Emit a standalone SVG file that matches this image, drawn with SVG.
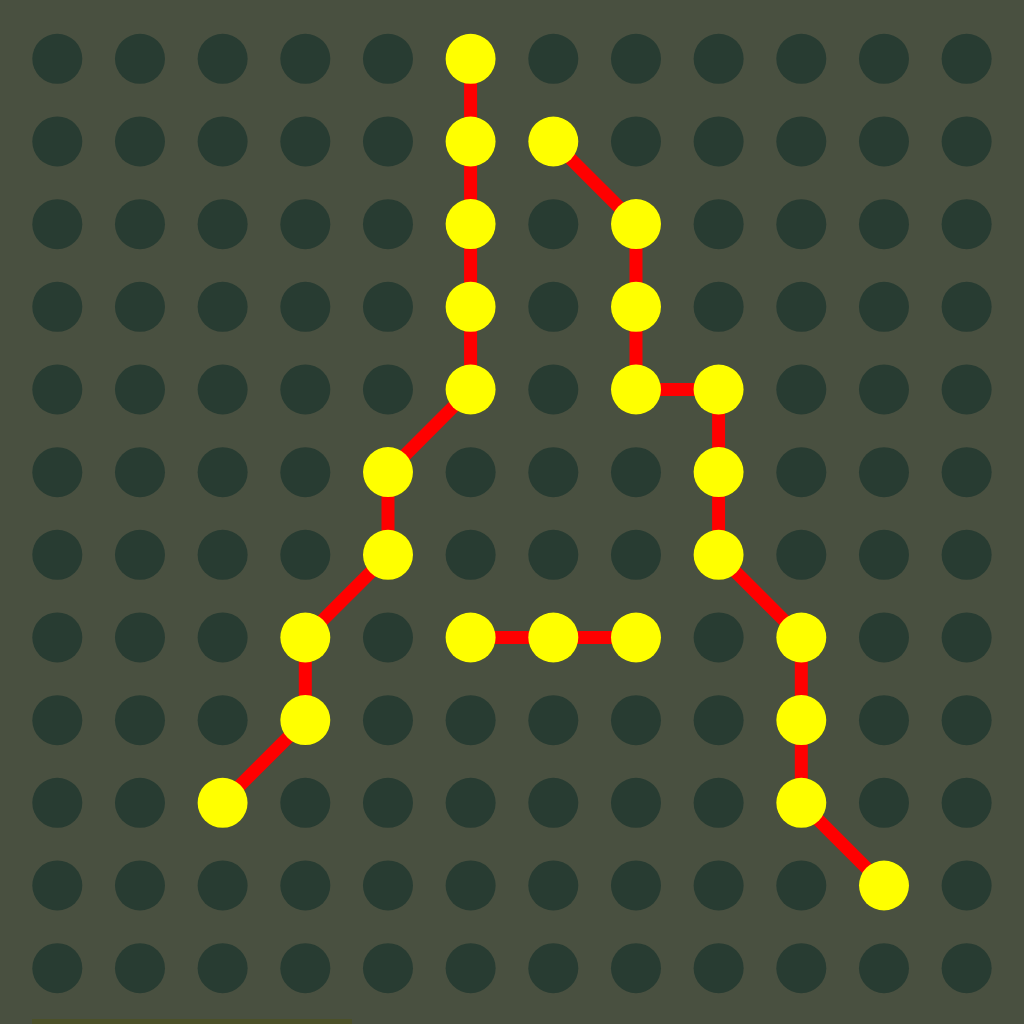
<svg xmlns="http://www.w3.org/2000/svg" width="1024" height="1024" viewBox="0 0 1024 1024">
<style>
.bg{fill:#495040}
.d{fill:#283c32}
.n{fill:#ffff00}
.e{stroke:#ff0000;stroke-width:13;fill:none;stroke-linecap:butt;stroke-linejoin:round}
</style>
<defs><circle id="dot" r="25"/></defs>
<rect class="bg" x="0" y="0" width="1024" height="1024"/>
<rect x="32" y="1019" width="320" height="5" fill="#4b5028"/>
<g id="grid" class="d">
<g transform="translate(57.3,58.8)">
<use href="#dot" x="0" y="0"/><use href="#dot" x="82.67" y="0"/><use href="#dot" x="165.33" y="0"/><use href="#dot" x="248" y="0"/><use href="#dot" x="330.67" y="0"/><use href="#dot" x="413.33" y="0"/><use href="#dot" x="496" y="0"/><use href="#dot" x="578.67" y="0"/><use href="#dot" x="661.33" y="0"/><use href="#dot" x="744" y="0"/><use href="#dot" x="826.67" y="0"/><use href="#dot" x="909.33" y="0"/>
</g>
<g transform="translate(57.3,141.47)">
<use href="#dot" x="0" y="0"/><use href="#dot" x="82.67" y="0"/><use href="#dot" x="165.33" y="0"/><use href="#dot" x="248" y="0"/><use href="#dot" x="330.67" y="0"/><use href="#dot" x="413.33" y="0"/><use href="#dot" x="496" y="0"/><use href="#dot" x="578.67" y="0"/><use href="#dot" x="661.33" y="0"/><use href="#dot" x="744" y="0"/><use href="#dot" x="826.67" y="0"/><use href="#dot" x="909.33" y="0"/>
</g>
<g transform="translate(57.3,224.13)">
<use href="#dot" x="0" y="0"/><use href="#dot" x="82.67" y="0"/><use href="#dot" x="165.33" y="0"/><use href="#dot" x="248" y="0"/><use href="#dot" x="330.67" y="0"/><use href="#dot" x="413.33" y="0"/><use href="#dot" x="496" y="0"/><use href="#dot" x="578.67" y="0"/><use href="#dot" x="661.33" y="0"/><use href="#dot" x="744" y="0"/><use href="#dot" x="826.67" y="0"/><use href="#dot" x="909.33" y="0"/>
</g>
<g transform="translate(57.3,306.8)">
<use href="#dot" x="0" y="0"/><use href="#dot" x="82.67" y="0"/><use href="#dot" x="165.33" y="0"/><use href="#dot" x="248" y="0"/><use href="#dot" x="330.67" y="0"/><use href="#dot" x="413.33" y="0"/><use href="#dot" x="496" y="0"/><use href="#dot" x="578.67" y="0"/><use href="#dot" x="661.33" y="0"/><use href="#dot" x="744" y="0"/><use href="#dot" x="826.67" y="0"/><use href="#dot" x="909.33" y="0"/>
</g>
<g transform="translate(57.3,389.47)">
<use href="#dot" x="0" y="0"/><use href="#dot" x="82.67" y="0"/><use href="#dot" x="165.33" y="0"/><use href="#dot" x="248" y="0"/><use href="#dot" x="330.67" y="0"/><use href="#dot" x="413.33" y="0"/><use href="#dot" x="496" y="0"/><use href="#dot" x="578.67" y="0"/><use href="#dot" x="661.33" y="0"/><use href="#dot" x="744" y="0"/><use href="#dot" x="826.67" y="0"/><use href="#dot" x="909.33" y="0"/>
</g>
<g transform="translate(57.3,472.13)">
<use href="#dot" x="0" y="0"/><use href="#dot" x="82.67" y="0"/><use href="#dot" x="165.33" y="0"/><use href="#dot" x="248" y="0"/><use href="#dot" x="330.67" y="0"/><use href="#dot" x="413.33" y="0"/><use href="#dot" x="496" y="0"/><use href="#dot" x="578.67" y="0"/><use href="#dot" x="661.33" y="0"/><use href="#dot" x="744" y="0"/><use href="#dot" x="826.67" y="0"/><use href="#dot" x="909.33" y="0"/>
</g>
<g transform="translate(57.3,554.8)">
<use href="#dot" x="0" y="0"/><use href="#dot" x="82.67" y="0"/><use href="#dot" x="165.33" y="0"/><use href="#dot" x="248" y="0"/><use href="#dot" x="330.67" y="0"/><use href="#dot" x="413.33" y="0"/><use href="#dot" x="496" y="0"/><use href="#dot" x="578.67" y="0"/><use href="#dot" x="661.33" y="0"/><use href="#dot" x="744" y="0"/><use href="#dot" x="826.67" y="0"/><use href="#dot" x="909.33" y="0"/>
</g>
<g transform="translate(57.3,637.47)">
<use href="#dot" x="0" y="0"/><use href="#dot" x="82.67" y="0"/><use href="#dot" x="165.33" y="0"/><use href="#dot" x="248" y="0"/><use href="#dot" x="330.67" y="0"/><use href="#dot" x="413.33" y="0"/><use href="#dot" x="496" y="0"/><use href="#dot" x="578.67" y="0"/><use href="#dot" x="661.33" y="0"/><use href="#dot" x="744" y="0"/><use href="#dot" x="826.67" y="0"/><use href="#dot" x="909.33" y="0"/>
</g>
<g transform="translate(57.3,720.13)">
<use href="#dot" x="0" y="0"/><use href="#dot" x="82.67" y="0"/><use href="#dot" x="165.33" y="0"/><use href="#dot" x="248" y="0"/><use href="#dot" x="330.67" y="0"/><use href="#dot" x="413.33" y="0"/><use href="#dot" x="496" y="0"/><use href="#dot" x="578.67" y="0"/><use href="#dot" x="661.33" y="0"/><use href="#dot" x="744" y="0"/><use href="#dot" x="826.67" y="0"/><use href="#dot" x="909.33" y="0"/>
</g>
<g transform="translate(57.3,802.8)">
<use href="#dot" x="0" y="0"/><use href="#dot" x="82.67" y="0"/><use href="#dot" x="165.33" y="0"/><use href="#dot" x="248" y="0"/><use href="#dot" x="330.67" y="0"/><use href="#dot" x="413.33" y="0"/><use href="#dot" x="496" y="0"/><use href="#dot" x="578.67" y="0"/><use href="#dot" x="661.33" y="0"/><use href="#dot" x="744" y="0"/><use href="#dot" x="826.67" y="0"/><use href="#dot" x="909.33" y="0"/>
</g>
<g transform="translate(57.3,885.47)">
<use href="#dot" x="0" y="0"/><use href="#dot" x="82.67" y="0"/><use href="#dot" x="165.33" y="0"/><use href="#dot" x="248" y="0"/><use href="#dot" x="330.67" y="0"/><use href="#dot" x="413.33" y="0"/><use href="#dot" x="496" y="0"/><use href="#dot" x="578.67" y="0"/><use href="#dot" x="661.33" y="0"/><use href="#dot" x="744" y="0"/><use href="#dot" x="826.67" y="0"/><use href="#dot" x="909.33" y="0"/>
</g>
<g transform="translate(57.3,968.13)">
<use href="#dot" x="0" y="0"/><use href="#dot" x="82.67" y="0"/><use href="#dot" x="165.33" y="0"/><use href="#dot" x="248" y="0"/><use href="#dot" x="330.67" y="0"/><use href="#dot" x="413.33" y="0"/><use href="#dot" x="496" y="0"/><use href="#dot" x="578.67" y="0"/><use href="#dot" x="661.33" y="0"/><use href="#dot" x="744" y="0"/><use href="#dot" x="826.67" y="0"/><use href="#dot" x="909.33" y="0"/>
</g>
</g>
<g id="connectors" class="e">
<polyline points="470.6,58.8 470.6,141.5 470.6,224.1 470.6,306.8 470.6,389.5 388,472.1 388,554.8 305.3,637.5 305.3,720.1 222.6,802.8"/>
<polyline points="553.3,141.5 636,224.1 636,306.8 636,389.5 718.6,389.5 718.6,472.1 718.6,554.8 801.3,637.5 801.3,720.1 801.3,802.8 884,885.5"/>
<polyline points="470.6,637.5 553.3,637.5 636,637.5"/>
</g>
<g id="nodes" class="n">
<circle id="n-5-0" cx="470.6" cy="58.8" r="25"/>
<circle id="n-5-1" cx="470.6" cy="141.5" r="25"/>
<circle id="n-5-2" cx="470.6" cy="224.1" r="25"/>
<circle id="n-5-3" cx="470.6" cy="306.8" r="25"/>
<circle id="n-5-4" cx="470.6" cy="389.5" r="25"/>
<circle id="n-4-5" cx="388" cy="472.1" r="25"/>
<circle id="n-4-6" cx="388" cy="554.8" r="25"/>
<circle id="n-3-7" cx="305.3" cy="637.5" r="25"/>
<circle id="n-3-8" cx="305.3" cy="720.1" r="25"/>
<circle id="n-2-9" cx="222.6" cy="802.8" r="25"/>
<circle id="n-6-1" cx="553.3" cy="141.5" r="25"/>
<circle id="n-7-2" cx="636" cy="224.1" r="25"/>
<circle id="n-7-3" cx="636" cy="306.8" r="25"/>
<circle id="n-7-4" cx="636" cy="389.5" r="25"/>
<circle id="n-8-4" cx="718.6" cy="389.5" r="25"/>
<circle id="n-8-5" cx="718.6" cy="472.1" r="25"/>
<circle id="n-8-6" cx="718.6" cy="554.8" r="25"/>
<circle id="n-9-7" cx="801.3" cy="637.5" r="25"/>
<circle id="n-9-8" cx="801.3" cy="720.1" r="25"/>
<circle id="n-9-9" cx="801.3" cy="802.8" r="25"/>
<circle id="n-10-10" cx="884" cy="885.5" r="25"/>
<circle id="n-5-7" cx="470.6" cy="637.5" r="25"/>
<circle id="n-6-7" cx="553.3" cy="637.5" r="25"/>
<circle id="n-7-7" cx="636" cy="637.5" r="25"/>
</g>
</svg>
